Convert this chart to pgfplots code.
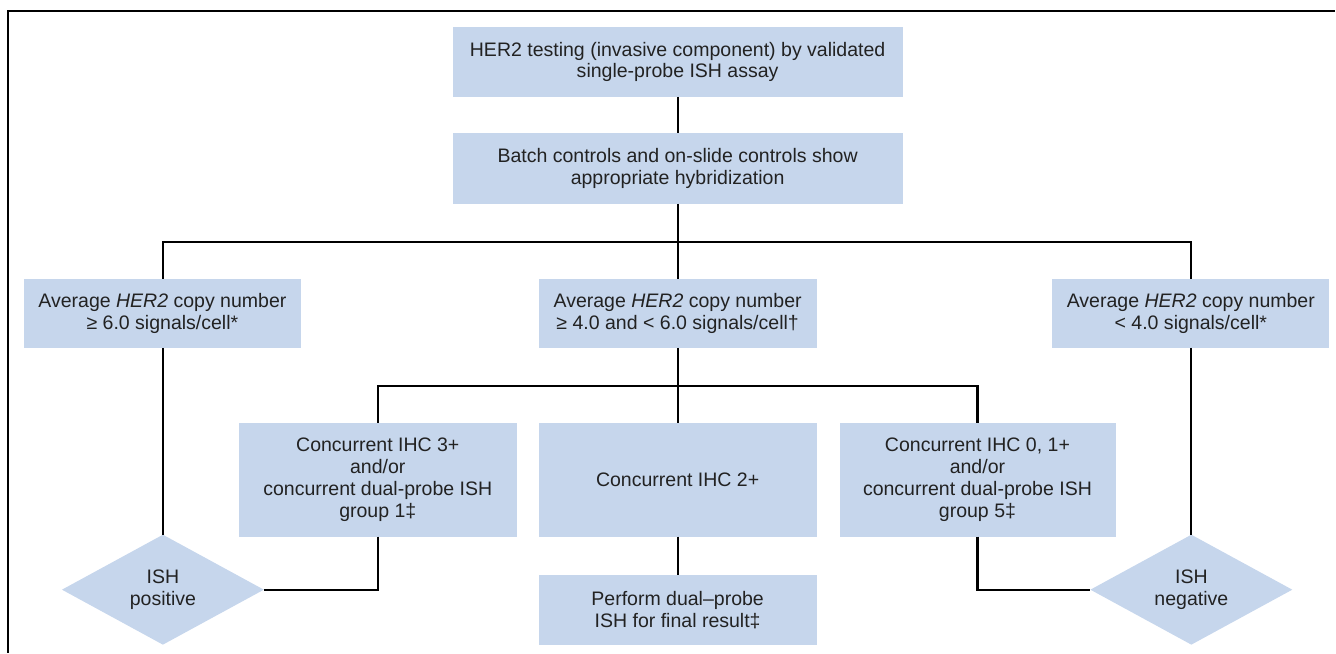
\documentclass[border=0pt]{standalone}
\usepackage{fontspec}
\setmainfont{Liberation Sans}
\usepackage{pgfplots}
\pgfplotsset{compat=1.18}
\definecolor{boxblue}{RGB}{198,214,236}
\definecolor{txt}{RGB}{34,34,34}
\tikzset{lbl/.style={font=\fontsize{19.6}{22}\selectfont, text=txt, align=center, inner sep=0pt}}
\begin{document}
\begin{tikzpicture}
\begin{axis}[
  width=1336bp, height=653bp, scale only axis,
  xmin=0, xmax=1336, ymin=0, ymax=653, y dir=reverse,
  hide axis, clip=false,
]
\path (axis cs:0,0) rectangle (axis cs:1336,653);
% frame
\addplot[black, line width=1.5bp, line join=miter] coordinates {(8,653) (8,11) (1336,11)};
% boxes
\addplot[fill=boxblue, draw=none] coordinates {(453,27) (903,27) (903,97) (453,97)} -- cycle;
\addplot[fill=boxblue, draw=none] coordinates {(453,133) (903,133) (903,204) (453,204)} -- cycle;
\addplot[fill=boxblue, draw=none] coordinates {(24,279) (301,279) (301,348) (24,348)} -- cycle;
\addplot[fill=boxblue, draw=none] coordinates {(539,279) (817,279) (817,348) (539,348)} -- cycle;
\addplot[fill=boxblue, draw=none] coordinates {(1053,279) (1330,279) (1330,348) (1053,348)} -- cycle;
\addplot[fill=boxblue, draw=none] coordinates {(239,423) (517,423) (517,537) (239,537)} -- cycle;
\addplot[fill=boxblue, draw=none] coordinates {(539,423) (817,423) (817,537) (539,537)} -- cycle;
\addplot[fill=boxblue, draw=none] coordinates {(840,423) (1117,423) (1117,537) (840,537)} -- cycle;
\addplot[fill=boxblue, draw=none] coordinates {(539,575) (817,575) (817,645) (539,645)} -- cycle;
% diamonds
\addplot[fill=boxblue, draw=none] coordinates {(163,535) (264,590) (163,645) (62,590)} -- cycle;
\addplot[fill=boxblue, draw=none] coordinates {(1192,535) (1293,590) (1192,645) (1091,590)} -- cycle;
% connectors
\addplot[black, line width=2.2bp] coordinates {(678,97) (678,133)};
\addplot[black, line width=2.2bp] coordinates {(678,204) (678,279)};
\addplot[black, line width=2.2bp, line join=miter] coordinates {(163,279) (163,242) (1192,242) (1192,279)};
\addplot[black, line width=2.2bp] coordinates {(678,348) (678,423)};
\addplot[black, line width=2.2bp, line join=miter] coordinates {(378,423) (378,386) (978,386) (978,423)};
\addplot[black, line width=2.2bp] coordinates {(678,537) (678,575)};
\addplot[black, line width=2.2bp] coordinates {(163,348) (163,535)};
\addplot[black, line width=2.2bp] coordinates {(1192,348) (1192,535)};
\addplot[black, line width=2.2bp, line join=miter] coordinates {(378,537) (378,590) (264,590)};
\addplot[black, line width=2.2bp, line join=miter] coordinates {(978,537) (978,590) (1091,590)};
% texts
\node[lbl] at (axis cs:678,62) {HER2 testing (invasive component) by validated\\single-probe ISH assay};
\node[lbl] at (axis cs:678,168.5) {Batch controls and on-slide controls show\\appropriate hybridization};
\node[lbl] at (axis cs:162.5,313.5) {Average \textit{HER2} copy number\\≥ 6.0 signals/cell*};
\node[lbl] at (axis cs:678,313.5) {Average \textit{HER2} copy number\\≥ 4.0 and < 6.0 signals/cell†};
\node[lbl] at (axis cs:1191.5,313.5) {Average \textit{HER2} copy number\\< 4.0 signals/cell*};
\node[lbl] at (axis cs:378,480) {Concurrent IHC 3+\\and/or\\concurrent dual-probe ISH\\group 1‡};
\node[lbl] at (axis cs:678,480) {Concurrent IHC 2+};
\node[lbl] at (axis cs:978,480) {Concurrent IHC 0, 1+\\and/or\\concurrent dual-probe ISH\\group 5‡};
\node[lbl] at (axis cs:678,610) {Perform dual–probe\\ISH for final result‡};
\node[lbl] at (axis cs:163,590) {ISH\\positive};
\node[lbl] at (axis cs:1192,590) {ISH\\negative};
\end{axis}
\end{tikzpicture}
\end{document}
